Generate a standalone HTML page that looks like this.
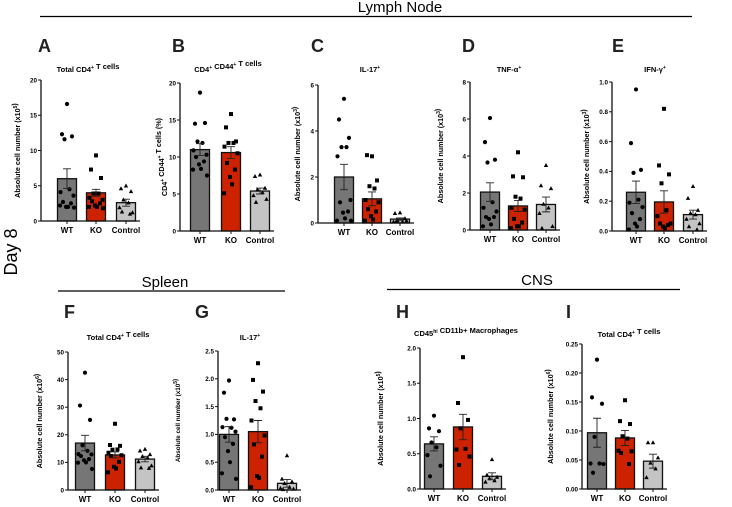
<!DOCTYPE html>
<html><head><meta charset="utf-8">
<style>
html,body{margin:0;padding:0;background:#fff;}
svg{display:block;font-family:"Liberation Sans",Arial,sans-serif;}
</style></head>
<body>
<svg id="fig" width="732" height="507" viewBox="0 0 732 507">
  <text x="400" y="12" font-size="15" text-anchor="middle">Lymph Node</text>
  <line x1="40" y1="16.5" x2="692" y2="16.5" stroke="#000" stroke-width="1.3"/>
  <text transform="translate(17,252) rotate(-90)" font-size="18" text-anchor="middle">Day 8</text>
  <text x="165" y="287" font-size="15" text-anchor="middle">Spleen</text>
  <line x1="58" y1="291" x2="285" y2="291" stroke="#000" stroke-width="1.3"/>
  <text x="537" y="285" font-size="15" text-anchor="middle">CNS</text>
  <line x1="387" y1="289.5" x2="680" y2="289.5" stroke="#000" stroke-width="1.3"/>
</svg>
<script>
// ---- data ----
const groups = ["WT","KO","Control"];
const aWT=[16.6,12.3,12.0,11.6,4.5,4.1,3.6,2.7,2.5,2.0,2.0,2.2,1.9];
const aKO=[9.3,7.3,6.1,3.9,3.9,3.3,3.0,2.8,2.5,2.2,2.0,2.0,1.8];
const aCtrl=[5.0,4.6,4.2,3.0,2.6,1.9,1.2,1.3,1.0];
const aMean=[6.0,4.0,2.6]; const aSem=[1.4,0.5,0.5];
const bWT=[18.7,14.5,14.6,12.1,11.9,10.9,10.3,10.0,9.4,9.0,8.4,8.3,7.5];
const bKO=[15.8,14.0,12.1,11.9,11.9,11.4,10.5,9.2,8.3,7.3,6.3,5.1];
const bCtrl=[7.6,7.4,5.8,5.6,5.2,4.8,4.3,3.9];
const bMean=[11.0,10.6,5.4]; const bSem=[0.8,0.8,0.4];
const cWT=[5.4,4.5,3.7,3.3,3.3,2.9,1.0,0.9,0.5,0.45,0.2,0.1,0.1];
const cKO=[2.9,2.95,1.85,1.6,1.5,1.0,0.9,0.6,0.5,0.3,0.15,0.1];
const cCtrl=[0.45,0.42,0.2,0.1,0.05,0.05,0.1,0.05];
const cMean=[2.0,1.05,0.17]; const cSem=[0.55,0.3,0.05];
const dWT=[6.05,4.75,3.8,3.65,1.5,1.2,1.0,0.7,0.7,0.6,0.3,0.2];
const dKO=[4.2,2.9,2.85,1.8,1.7,1.2,1.1,0.6,0.4,0.2,0.2,0.1];
const dCtrl=[3.5,2.4,2.25,1.4,1.2,0.9,0.2,0.1];
const dMean=[2.05,1.3,1.38]; const dSem=[0.5,0.3,0.4];
const eWT=[0.95,0.59,0.41,0.39,0.21,0.19,0.16,0.12,0.08,0.05,0.03,0.01];
const eKO=[0.82,0.44,0.38,0.32,0.14,0.1,0.05,0.05,0.04,0.03,0.02];
const eCtrl=[0.30,0.22,0.14,0.12,0.11,0.08,0.05,0.03,0.01];
const eMean=[0.26,0.195,0.11]; const eSem=[0.075,0.075,0.03];
const fWT=[42.5,30.6,25.4,16.2,14.2,13.0,12.9,12.3,11.2,10.8,10.0,9.9,7.6];
const fKO=[24,16.3,16.0,14.6,14.7,13.5,12.6,12.3,10.2,8.4,7.8,6.4];
const fCtrl=[14.8,14.2,12.9,12.2,11.7,10.3,8.8,8.1,7.9];
const fMean=[17.0,12.7,11.2]; const fSem=[2.8,1.1,1.0];
const gWT=[1.97,1.75,1.27,1.28,1.12,1.13,1.05,0.95,0.83,0.7,0.5,0.3,0.2];
const gKO=[2.28,1.98,1.77,1.6,1.47,1.25,0.98,0.82,0.6,0.25,0.22,0.05];
const gCtrl=[0.62,0.2,0.15,0.12,0.05,0.03,0.02,0.01];
const gMean=[1.0,1.05,0.12]; const gSem=[0.14,0.2,0.07];
const hWT=[1.04,0.86,0.82,0.66,0.59,0.48,0.33,0.18];
const hKO=[1.87,1.22,0.98,0.86,0.57,0.56,0.46,0.34];
const hCtrl=[0.42,0.2,0.17,0.15,0.12,0.1];
const hMean=[0.64,0.88,0.18]; const hSem=[0.1,0.18,0.05];
const iWT=[0.223,0.158,0.147,0.09,0.044,0.044,0.043,0.028];
const iKO=[0.153,0.117,0.112,0.091,0.087,0.066,0.065,0.062,0.043];
const iCtrl=[0.08,0.08,0.054,0.045,0.035,0.02];
const iMean=[0.097,0.088,0.048]; const iSem=[0.025,0.013,0.012];
const ticksA=["0","5","10","15","20"];
const ticksB=["0","5","10","15","20"];
const ticksC=["0","2","4","6"];
const ticksD=["0","2","4","6","8"];
const ticksE=["0.0","0.2","0.4","0.6","0.8","1.0"];
const ticksF=["0","10","20","30","40","50"];
const ticksG=["0.0","0.5","1.0","1.5","2.0","2.5"];
const ticksH=["0.0","0.5","1.0","1.5","2.0"];
const ticksI=["0.00","0.05","0.10","0.15","0.20","0.25"];

const NS="http://www.w3.org/2000/svg";
const svg=document.getElementById('fig');
function mk(tag,attrs,parent,txt){const e=document.createElementNS(NS,tag);for(const k in attrs)e.setAttribute(k,attrs[k]);if(txt!==undefined)e.textContent=txt;(parent||svg).appendChild(e);return e;}
const colors=["#767676","#cc2200","#c4c4c4"];
const jit=[0,-5,5,-2.5,2.5,-6.5,6.5,-4,4,-1,1,-7,7];

function panel(p){
  const g=mk('g',{});
  
  
  const y=v=>p.y0-(v/p.max)*(p.y0-p.yTop);
  const lt=mk('text',{x:p.lx,y:p.ly,'font-size':18,'font-weight':'bold',fill:'#222'},g,p.id);
  
  
  const tt=mk('text',{x:p.tx,y:p.ty,'font-size':p.tfs||7.5,'font-weight':'bold','text-anchor':'middle'},g);
  tt.innerHTML=p.title;
  
  
  const yt=mk('text',{transform:`translate(${p.yax},${(p.y0+p.yTop)/2}) rotate(-90)`,'font-size':p.yfs||7.2,'font-weight':'bold','text-anchor':'middle'},g);
  yt.innerHTML=p.ylab;
  
  
  p.means.forEach((m,i)=>{
    const cx=p.xs[i];
    const r=mk('rect',{x:cx-9.5,y:y(m),width:19,height:p.y0-y(m),fill:colors[i],stroke:'#111','stroke-width':1.3},g);
    
    
  });
  p.pts.forEach((arr,i)=>{
    const cx=p.xs[i];
    arr.forEach((v,k)=>{
      const px=cx+jit[k%jit.length], py=y(v);
      let e;
      if(i===0) e=mk('circle',{cx:px,cy:py,r:2.1,fill:'#000'},g);
      else if(i===1) e=mk('rect',{x:px-2,y:py-2,width:4,height:4,fill:'#000'},g);
      else e=mk('polygon',{points:`${px},${py-2.3} ${px-2.2},${py+1.7} ${px+2.2},${py+1.7}`,fill:'#000'},g);
      
      
    });
  });
  p.means.forEach((m,i)=>{
    const cx=p.xs[i], s=p.sem[i];
    const e=mk('path',{d:`M${cx},${y(m-s)}V${y(m+s)}M${cx-4},${y(m+s)}H${cx+4}M${cx-4},${y(m-s)}H${cx+4}`,stroke:'#222','stroke-width':0.9,fill:'none'},g);
    
    
  });
  const ax=mk('path',{d:`M${p.ax},${p.yTop}V${p.y0}H${p.xs[2]+14}`,stroke:'#111','stroke-width':1.3,fill:'none'},g);
  
  
  const n=p.ticks.length-1;
  p.ticks.forEach((t,k)=>{
    const ty=y(p.max*k/n);
    mk('line',{x1:p.ax-3,x2:p.ax,y1:ty,y2:ty,stroke:'#111','stroke-width':1},g);
    const tl=mk('text',{x:p.ax-4,y:ty+2.3,'font-size':6.3,'font-weight':'bold','text-anchor':'end'},g,t);
    
    
  });
  groups.forEach((gname,i)=>{
    mk('line',{x1:p.xs[i],x2:p.xs[i],y1:p.y0,y2:p.y0+3,stroke:'#111','stroke-width':1},g);
    const xl=mk('text',{x:p.xs[i],y:p.y0+12,'font-size':8,'font-weight':'bold','text-anchor':'middle'},g,gname);
    
    
  });
}
const sup=s=>`<tspan dy="-3" font-size="5">${s}</tspan><tspan dy="3"></tspan>`;
const acn=e=>`Absolute cell number (x10${sup(e)})`;
panel({id:'A',lx:38,ly:52,tx:88,ty:72,title:`Total CD4${sup('+')} T cells`,yax:20,ylab:acn('5'),ax:41,yTop:80,y0:221,max:20,xs:[67,96,126],means:aMean,sem:aSem,pts:[aWT,aKO,aCtrl],ticks:ticksA});
panel({id:'B',lx:172,ly:52,tx:228,ty:72,title:`CD4${sup('+')} CD44${sup('+')} T cells`,yax:167,ylab:`CD4${sup('+')} CD44${sup('+')} T cells (%)`,ax:180,yTop:83,y0:231,max:20,xs:[200,231,260],means:bMean,sem:bSem,pts:[bWT,bKO,bCtrl],ticks:ticksB});
panel({id:'C',lx:311,ly:52,tx:370,ty:72,title:`IL-17${sup('+')}`,yax:300,ylab:acn('3'),ax:318,yTop:85,y0:223,max:6,xs:[344,372,400],means:cMean,sem:cSem,pts:[cWT,cKO,cCtrl],ticks:ticksC});
panel({id:'D',lx:462,ly:52,tx:509,ty:72,title:`TNF-α${sup('+')}`,yax:443,ylab:acn('3'),ax:470,yTop:82,y0:230,max:8,xs:[490,518,546],means:dMean,sem:dSem,pts:[dWT,dKO,dCtrl],ticks:ticksD});
panel({id:'E',lx:612,ly:52,tx:655,ty:72,title:`IFN-γ${sup('+')}`,yax:589,ylab:acn('3'),ax:612,yTop:82,y0:231,max:1,xs:[636,664,693],means:eMean,sem:eSem,pts:[eWT,eKO,eCtrl],ticks:ticksE});
panel({id:'F',lx:64,ly:318,tx:118,ty:340,title:`Total CD4${sup('+')} T cells`,yax:42,ylab:acn('6'),ax:68,yTop:352,y0:490,max:50,xs:[85,115,145],means:fMean,sem:fSem,pts:[fWT,fKO,fCtrl],ticks:ticksF});
panel({id:'G',lx:195,ly:318,tx:250,ty:340,title:`IL-17${sup('+')}`,yax:180,yfs:6.3,ylab:acn('5'),ax:218,yTop:351,y0:490,max:2.5,xs:[229,258,287],means:gMean,sem:gSem,pts:[gWT,gKO,gCtrl],ticks:ticksG});
panel({id:'H',lx:396,ly:318,tx:466,ty:336,title:`CD45${sup('hi')} CD11b+ Macrophages`,yax:383,ylab:acn('5'),ax:420,yTop:348,y0:489,max:2,xs:[434,463,492],means:hMean,sem:hSem,pts:[hWT,hKO,hCtrl],ticks:ticksH});
panel({id:'I',lx:566,ly:318,tx:629,ty:337,title:`Total CD4${sup('+')} T cells`,yax:553,ylab:acn('6'),ax:582,yTop:344,y0:489,max:0.25,xs:[597,625,653],means:iMean,sem:iSem,pts:[iWT,iKO,iCtrl],ticks:ticksI});
</script>
</body></html>
